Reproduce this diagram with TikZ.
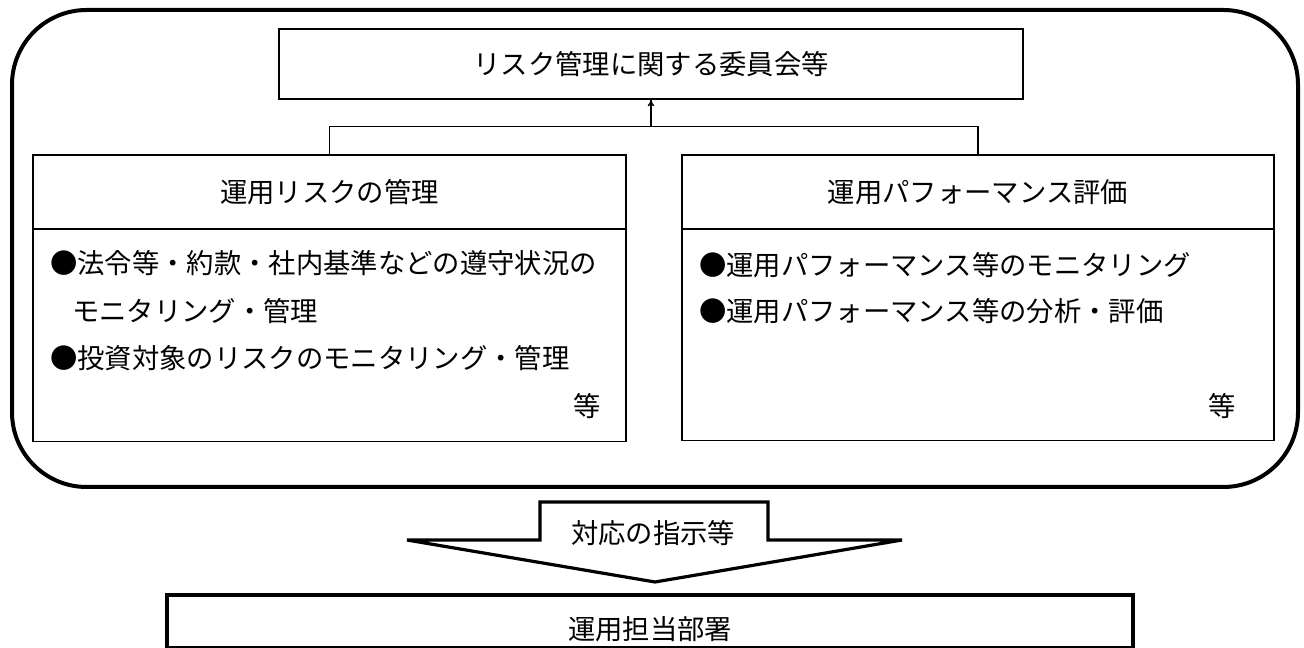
\documentclass[tikz,border=0pt]{standalone}
\usepackage{fontspec}
\setmainfont{Noto Sans CJK JP}
\usetikzlibrary{arrows.meta}
\tikzset{
  px/.style={x=0.75pt,y=-0.75pt},
  jfont/.style={font=\fontsize{20.5}{24}\selectfont},
  frameline/.style={line width=3pt,rounded corners=56pt},
  thinbox/.style={draw,line width=1.1pt,inner sep=0pt,jfont},
  bodytext/.style={anchor=west,inner sep=0pt,jfont},
  plaintext/.style={inner sep=0pt,jfont},
  bigarrow/.style={line width=2.4pt,line join=miter,fill=white},
  conn/.style={line width=1.1pt},
}
\begin{document}
\begin{tikzpicture}[px]
\useasboundingbox (0,0) rectangle (1304,648);
\fill[white] (0,0) rectangle (1304,648);
% outer frame
\draw[frameline] (12,10) rectangle (1298,487);
% top committee box
\node[thinbox,minimum width=558pt,minimum height=52.5pt] (top) at (651,64) {リスク管理に関する委員会等};
% left box
\node[thinbox,minimum width=444.75pt,minimum height=55.5pt] (lhead) at (329.5,192) {運用リスクの管理};
\node[thinbox,minimum width=444.75pt,minimum height=159pt,anchor=north] (lbody) at (329.5,229) {};
\node[bodytext] (l1) at (50,263) {●法令等・約款・社内基準などの遵守状況の};
\node[bodytext] (l2) at (72,311) {モニタリング・管理};
\node[bodytext] (l3) at (50,358) {●投資対象のリスクのモニタリング・管理};
\node[plaintext] (l4) at (587,406) {等};
% right box
\node[thinbox,minimum width=444pt,minimum height=55.5pt] (rhead) at (978,192) {運用パフォーマンス評価};
\node[thinbox,minimum width=444pt,minimum height=158.25pt,anchor=north] (rbody) at (978,229) {};
\node[bodytext] (r1) at (699,265) {●運用パフォーマンス等のモニタリング};
\node[bodytext] (r2) at (699,311) {●運用パフォーマンス等の分析・評価};
\node[plaintext] (r3) at (1222,406) {等};
% connectors
\coordinate (mid) at (651,127);
\draw[conn] (lhead.north) -- ++(0,-28) -| (rhead.north);
\draw[conn,-{To[length=5pt,width=5pt]}] (mid) -- (top.south);
% big arrow
\draw[bigarrow] (540,540) -- (540,502) -- (768,502) -- (768,540) -- (902,540) -- (655,582) -- (407,540) -- cycle;
\node[plaintext] (instr) at (653,533) {対応の指示等};
% department box
\begin{scope}
\clip (0,0) rectangle (1304,648);
\draw[line width=3pt] (167,595) rectangle (1133,648);
\end{scope}
\node[plaintext] (dept) at (650,629) {運用担当部署};
\end{tikzpicture}
\end{document}
